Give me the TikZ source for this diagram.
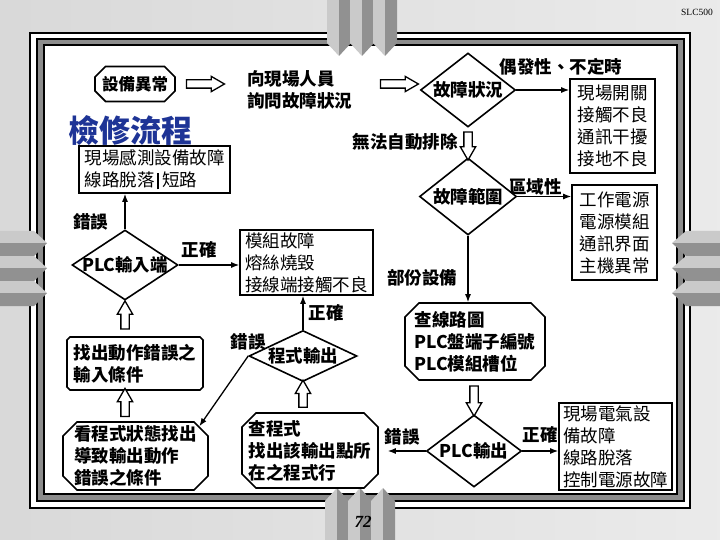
\documentclass[tikz,border=0pt]{standalone}
\usepackage{fontspec}
\setmainfont{Noto Sans CJK TC}
\newfontfamily\serifnum{Liberation Serif}
\usepackage{tikz}
\usetikzlibrary{positioning, shapes.geometric, shapes.misc, shapes.arrows, arrows.meta, calc}

\definecolor{titleblue}{RGB}{30,52,150}
\definecolor{bandgray}{RGB}{140,140,140}
\definecolor{pencillight}{RGB}{202,202,202}
\definecolor{pencildark}{RGB}{145,145,145}

\newcommand{\regtxt}{\fontsize{17.5}{22}\selectfont}
\newcommand{\boldtxt}{\bfseries\fontsize{17.5}{22}\selectfont}

\begin{document}
\begin{tikzpicture}[x=1pt, y=-1pt,
        box/.style={draw=black, line width=1.6pt, rectangle, inner sep=2pt, font=\regtxt},
        octa/.style={draw=black, line width=1.6pt, chamfered rectangle, chamfered rectangle xsep=11pt, inner sep=-20pt, font=\boldtxt, align=left},
        dmd/.style={draw=black, line width=1.6pt, diamond, inner sep=-20pt, font=\boldtxt},
        lbl/.style={font=\boldtxt, inner sep=1pt},
        edge/.style={line width=1.3pt, -{Latex[length=8pt, width=6pt]}},
        hollow/.style={draw=black, line width=1.3pt, fill=white, single arrow, inner sep=3.5pt, single arrow head extend=3.5pt, single arrow tip angle=60, minimum height=#1},
        hollow/.default=36pt
    ]

    % Hintergrund und Rahmen
    \useasboundingbox (0,0) rectangle (720,540);
    \shade[left color=gray!30, middle color=gray!6, right color=gray!16] (0,0) rectangle (720,540);
    \filldraw[fill=white, draw=black, line width=1.5pt] (30,33) rectangle (690,508);
    \filldraw[fill=bandgray, draw=black, line width=1.2pt] (37,39) rectangle (684,501);
    \filldraw[fill=white, draw=black, line width=1.5pt] (44,45) rectangle (677,494);

    % Bleistifte
    \foreach \px in {327,350,373}{
        \fill[pencillight] (\px,0) -- (\px+12,0) -- (\px+12,56) -- (\px,43) -- cycle;
        \fill[pencildark] (\px+12,0) -- (\px+24,0) -- (\px+24,43) -- (\px+12,56) -- cycle;
    }
    \foreach \py in {231,256,281}{
        \fill[pencillight] (0,\py) -- (34,\py) -- (47,\py+12) -- (0,\py+12) -- cycle;
        \fill[pencildark] (0,\py+12) -- (47,\py+12) -- (34,\py+25) -- (0,\py+25) -- cycle;
        \fill[pencillight] (720,\py) -- (686,\py) -- (672,\py+12) -- (720,\py+12) -- cycle;
        \fill[pencildark] (720,\py+12) -- (672,\py+12) -- (686,\py+25) -- (720,\py+25) -- cycle;
    }
    \foreach \px in {325,348,371}{
        \fill[pencillight] (\px,540) -- (\px,501) -- (\px+12,488) -- (\px+12,540) -- cycle;
        \fill[pencildark] (\px+12,540) -- (\px+12,488) -- (\px+24,501) -- (\px+24,540) -- cycle;
    }

    % Knoten
    \node[font=\serifnum\fontsize{9.5}{10}\selectfont] (slc) at (697,12) {SLC500};
    \node[font=\serifnum\bfseries\itshape\fontsize{17}{17}\selectfont] (pagenum) at (363,522) {72};

    \node[octa, inner sep=0pt, chamfered rectangle xsep=7pt, minimum width=80pt, minimum height=35pt, font=\bfseries\fontsize{16.5}{20}\selectfont] (abn) at (135,84) {設備異常};
    \node[hollow=38pt, right=10pt of abn] (h1) {};
    \node[lbl, align=left, anchor=west] (ask) at (246,90) {向現場人員\\詢問故障狀況};
    \node[font=\bfseries\fontsize{31}{31}\selectfont, text=titleblue, inner sep=0pt] (title) at (130,131) {檢修流程};
    \node[box, align=left, minimum width=151pt, minimum height=47pt] (sense) at (154.5,169.5) {現場感測設備故障\\線路脫落\,\rule[-3pt]{2pt}{16pt}\,短路};

    \node[dmd, minimum width=106pt, minimum height=70pt] (plcin) at (125,265) {PLC輸入端};
    \node[box, align=left, minimum width=133pt, minimum height=65pt] (mod) at (306.5,262.5) {模組故障\\熔絲燒毀\\接線端接觸不良};
    \node[octa, minimum width=136pt, minimum height=53pt] (findin) at (135,363.5) {找出動作錯誤之\\輸入條件};
    \node[octa, minimum width=145pt, minimum height=68pt] (lookprog) at (135.5,456) {看程式狀態找出\\導致輸出動作\\錯誤之條件};
    \node[dmd, minimum width=108pt, minimum height=51pt] (prog) at (303,356) {程式輸出};
    \node[octa, minimum width=136pt, minimum height=75pt] (chkprog) at (310,450.5) {查程式\\找出該輸出點所\\在之程式行};

    \node[dmd, minimum width=95pt, minimum height=74pt] (state) at (468,90) {故障狀況};
    \node[hollow=38pt, left=0pt of state.west, yshift=6pt] (h2) {};
    \node[box, align=center, minimum width=85pt, minimum height=94pt] (rand) at (612.5,126) {現場開關\\接觸不良\\通訊干擾\\接地不良};
    \node[lbl] (nofix) at (405,142) {無法自動排除};
    \node[dmd, minimum width=97pt, minimum height=77pt] (range) at (468,196.5) {故障範圍};
    \node[hollow=28pt, rotate=-90] (h3) at ($(state.south)!0.5!(range.north)$) {};
    \node[box, align=center, minimum width=85pt, minimum height=95pt] (sys) at (614.5,232.5) {工作電源\\電源模組\\通訊界面\\主機異常};
    \node[octa, minimum width=140pt, minimum height=77pt] (wiring) at (475,341.5) {查線路圖\\PLC盤端子編號\\PLC模組槽位};
    \node[dmd, minimum width=95pt, minimum height=72pt] (plcout) at (474,451) {PLC輸出};
    \node[hollow=30pt, rotate=-90] (h4) at ($(plcout.north)!0.5!(plcout.north |- wiring.south)$) {};
    \node[box, align=left, minimum width=113pt, minimum height=87pt] (elec) at (615.5,446.5) {現場電氣設\\備故障\\線路脫落\\控制電源故障};

    \node[hollow=28pt, rotate=90] (h5) at ($(plcin.south)!0.5!(plcin.south |- findin.north)$) {};
    \node[hollow=28pt, rotate=90] (h6) at ($(plcin.south |- findin.south)!0.5!(plcin.south |- lookprog.north)$) {};
    \node[hollow=27pt, rotate=90] (h7) at ($(prog.south)!0.5!(prog.south |- chkprog.north)$) {};

    % Kanten
    \draw[edge] (plcin.north) -- (plcin.north |- sense.south) node[pos=0.22, left=15pt, lbl] (err1) {錯誤};
    \draw[edge] (plcin.east) -- (plcin.east -| mod.west) node[midway, above=5pt, xshift=-10pt, lbl] (ok1) {正確};
    \draw[edge] (prog.north) -- (prog.north |- mod.south) node[midway, right=4pt, lbl] (ok2) {正確};
    \draw[edge] (prog.west) -- (lookprog.25) node[pos=0, above=4pt, lbl] (err2) {錯誤};
    \draw[edge] (state.east) -- (state.east -| rand.west) node[midway, above=13pt, xshift=18pt, lbl] (occ) {偶發性、不定時};
    \draw[edge] (range.east) -- (range.east -| sys.west) node[midway, above=0pt, xshift=-9pt, lbl] (area) {區域性};
    \draw[edge] (range.south) -- (range.south |- wiring.north) node[pos=0.63, left=9pt, lbl] (part) {部份設備};
    \draw[edge] (plcout.east) -- (plcout.east -| elec.west) node[midway, above=6pt, lbl] (ok3) {正確};
    \draw[edge, shorten >=9pt] (plcout.west) -- (plcout.west -| chkprog.east) node[midway, above=4pt, lbl] (err3) {錯誤};

\end{tikzpicture}
\end{document}
